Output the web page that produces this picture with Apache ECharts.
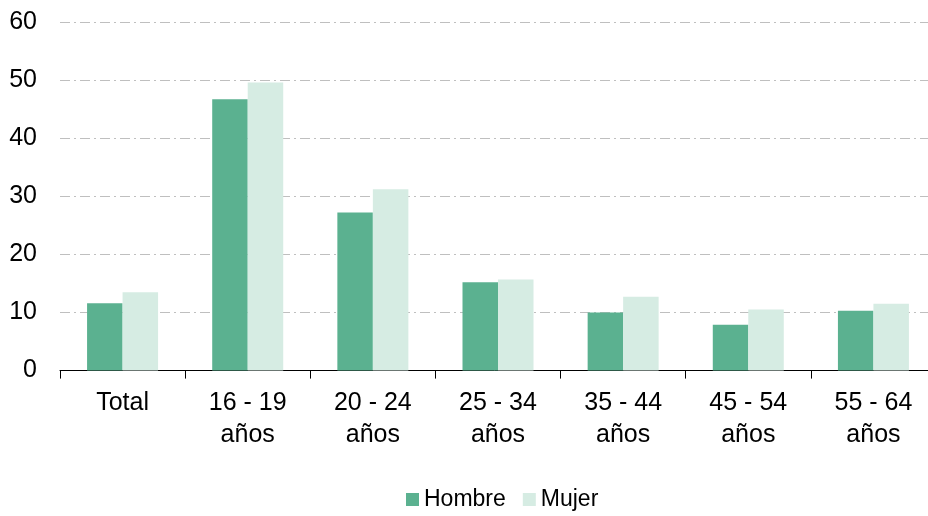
<!DOCTYPE html>
<html>
<head>
<meta charset="utf-8">
<script src="https://cdn.jsdelivr.net/npm/echarts@6/dist/echarts.min.js"></script>
<style>html,body{margin:0;padding:0;background:#fff}#c{width:928px;height:516px}</style>
</head>
<body>
<div id="c"></div>
<script>
const categories = ['Total', '16 - 19\naños', '20 - 24\naños', '25 - 34\naños', '35 - 44\naños', '45 - 54\naños', '55 - 64\naños'];
const hombre = [11.6, 46.7, 27.2, 15.2, 10.0, 7.9, 10.3];
const mujer = [13.5, 49.6, 31.2, 15.7, 12.7, 10.5, 11.5];
const seriesNames = ['Hombre', 'Mujer'];

const font = 'Liberation Sans, Arial, sans-serif';
const chart = echarts.init(document.getElementById('c'), null, {renderer: 'canvas'});
chart.setOption({
  animation: false,
  textStyle: {fontFamily: font},
  grid: {left: 60, width: 876, top: 22, height: 348.6, containLabel: false, outerBoundsMode: 'none'},
  legend: {
    top: 488, left: 406, padding: 0,
    itemWidth: 13, itemHeight: 13, itemGap: 17,
    icon: 'rect',
    textStyle: {fontSize: 23, color: '#000', fontFamily: font},
    data: seriesNames
  },
  xAxis: {
    type: 'category',
    data: categories,
    axisLine: {lineStyle: {color: '#000', width: 1}},
    axisTick: {show: true, length: 8, lineStyle: {color: '#000'}},
    axisLabel: {fontSize: 25, color: '#000', margin: 17, lineHeight: 32, fontFamily: font, interval: 0}
  },
  yAxis: {
    type: 'value', min: 0, max: 60, interval: 10,
    axisLine: {show: false}, axisTick: {show: false},
    axisLabel: {fontSize: 25, color: '#000', margin: 23, fontFamily: font},
    splitLine: {lineStyle: {color: '#BFBFBF', width: 1, type: [10, 4, 2, 4]}}
  },
  series: [
    {name: seriesNames[0], type: 'bar', data: hombre, barWidth: 35.5, barGap: '0%', itemStyle: {color: '#5BB190'}},
    {name: seriesNames[1], type: 'bar', data: mujer, barWidth: 35.5, barGap: '0%', itemStyle: {color: '#D6ECE3'}}
  ]
});
</script>
</body>
</html>
